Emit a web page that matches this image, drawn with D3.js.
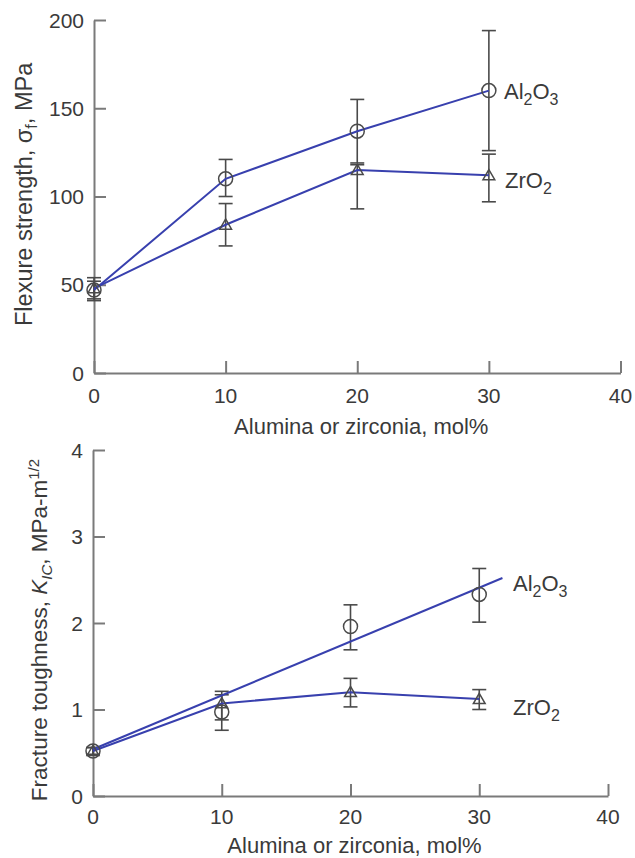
<!DOCTYPE html>
<html>
<head>
<meta charset="utf-8">
<script src="https://cdn.jsdelivr.net/npm/d3@7"></script>
<style>
  body { margin: 0; background: #fff; }
  svg { display: block; font-family: "Liberation Sans", Arial, sans-serif; }
</style>
</head>
<body>
<div id="chart"></div>
<script>
// composition, mol%
const molPct = [0, 10, 20, 30];

// flexure strength, MPa
const alFlex   = [47, 110, 137, 160];
const alFlexLo = [41, 100, 119, 126];
const alFlexHi = [54, 121, 155, 194];
const zrFlex   = [48, 84, 115, 112];
const zrFlexLo = [42, 72, 93, 97];
const zrFlexHi = [52, 96, 118, 124];

// fracture toughness, MPa-m^1/2
const alTough   = [0.52, 0.97, 1.96, 2.33];
const alToughLo = [0.48, 0.76, 1.69, 2.01];
const alToughHi = [0.56, 1.17, 2.21, 2.63];
const zrTough   = [0.52, 1.07, 1.20, 1.12];
const zrToughLo = [0.48, 0.88, 1.03, 1.00];
const zrToughHi = [0.56, 1.21, 1.36, 1.23];
// straight fit drawn through the Al2O3 toughness points
const alFitX = [0, 31.8];
const alFitY = [0.54, 2.52];

const xTicks = [0, 10, 20, 30, 40];
const flexTicks = [0, 50, 100, 150, 200];
const toughTicks = [0, 1, 2, 3, 4];

const lineColor = "#3840ae";
const markColor = "#4a4a4a";
const axisColor = "#7a7a7a";
const textColor = "#3a3a3a";

const svg = d3.select("#chart").append("svg")
    .attr("width", 635)
    .attr("height", 858);

function pts(xs, ys) {
    return xs.map((x, i) => ({x: x, y: ys[i]}));
}

function drawPanel(opt) {
    const x = d3.scaleLinear().domain([0, 40]).range(opt.xRange);
    const y = d3.scaleLinear().domain(opt.yDomain).range(opt.yRange);
    const g = svg.append("g");

    // axes, ticks pointing inward
    const xAxis = g.append("g")
        .attr("transform", "translate(0," + opt.yRange[0] + ")")
        .call(d3.axisTop(x).tickValues(xTicks).tickSize(12).tickSizeOuter(0).tickFormat(""));
    const yAxis = g.append("g")
        .attr("transform", "translate(" + opt.xRange[0] + ",0)")
        .call(d3.axisRight(y).tickValues(opt.yTicks).tickSize(12).tickSizeOuter(0).tickFormat(""));
    [xAxis, yAxis].forEach(a => {
        a.selectAll("path, line").attr("stroke", axisColor).attr("stroke-width", 2);
    });

    // tick labels
    g.selectAll(".xl").data(xTicks).enter().append("text")
        .attr("x", d => x(d))
        .attr("y", opt.yRange[0] + opt.tickDy)
        .attr("text-anchor", "middle")
        .attr("font-size", 21)
        .attr("fill", textColor)
        .text(d => d);
    g.selectAll(".yl").data(opt.yTicks).enter().append("text")
        .attr("x", opt.xRange[0] - 10)
        .attr("y", d => y(d))
        .attr("dy", "0.36em")
        .attr("text-anchor", "end")
        .attr("font-size", 21)
        .attr("fill", textColor)
        .text(d => d);

    // x title
    g.append("text")
        .attr("x", (opt.xRange[0] + opt.xRange[1]) / 2 + 4)
        .attr("y", opt.yRange[0] + opt.titleDy)
        .attr("text-anchor", "middle")
        .attr("font-size", 22)
        .attr("fill", textColor)
        .text("Alumina or zirconia, mol%");

    const line = d3.line().x(d => x(d.x)).y(d => y(d.y));

    // error bars
    opt.bars.forEach(b => {
        molPct.forEach((m, i) => {
            const cx = x(m);
            const eb = g.append("g").attr("stroke", markColor).attr("stroke-width", 1.6).attr("fill", "none");
            eb.append("line").attr("x1", cx).attr("x2", cx).attr("y1", y(b.lo[i])).attr("y2", y(b.hi[i]));
            eb.append("line").attr("x1", cx - 7).attr("x2", cx + 7).attr("y1", y(b.lo[i])).attr("y2", y(b.lo[i]));
            eb.append("line").attr("x1", cx - 7).attr("x2", cx + 7).attr("y1", y(b.hi[i])).attr("y2", y(b.hi[i]));
        });
    });

    // lines
    opt.lines.forEach(l => {
        g.append("path")
            .attr("d", line(l))
            .attr("fill", "none")
            .attr("stroke", lineColor)
            .attr("stroke-width", 2);
    });

    // markers
    g.selectAll(".circ").data(pts(molPct, opt.al)).enter().append("circle")
        .attr("cx", d => x(d.x))
        .attr("cy", d => y(d.y))
        .attr("r", 7)
        .attr("fill", "none")
        .attr("stroke", markColor)
        .attr("stroke-width", 1.5);
    g.selectAll(".tri").data(pts(molPct, opt.zr)).enter().append("path")
        .attr("d", d3.symbol(d3.symbolTriangle, 60))
        .attr("transform", d => "translate(" + x(d.x) + "," + (y(d.y) + 1) + ")")
        .attr("fill", "none")
        .attr("stroke", markColor)
        .attr("stroke-width", 1.5);

    // series labels
    opt.labels.forEach(lb => {
        const t = g.append("text")
            .attr("x", lb.x)
            .attr("y", lb.y)
            .attr("font-size", 22)
            .attr("fill", textColor);
        lb.parts.forEach(p => {
            if (p.sub) {
                t.append("tspan").attr("dy", 6).attr("font-size", 16).text(p.t);
            } else {
                t.append("tspan").attr("dy", p.back ? -6 : 0).text(p.t);
            }
        });
    });

    return g;
}

const alLabel = [{t: "Al"}, {t: "2", sub: true}, {t: "O", back: true}, {t: "3", sub: true}];
const zrLabel = [{t: "ZrO"}, {t: "2", sub: true}];

// top panel: flexure strength
drawPanel({
    xRange: [94, 620.5],
    yRange: [373, 20],
    yDomain: [0, 200],
    yTicks: flexTicks,
    tickDy: 30,
    titleDy: 61,
    al: alFlex,
    zr: zrFlex,
    bars: [{lo: alFlexLo, hi: alFlexHi}, {lo: zrFlexLo, hi: zrFlexHi}],
    lines: [pts(molPct, alFlex), pts(molPct, zrFlex)],
    labels: [{x: 504, y: 99, parts: alLabel}, {x: 505, y: 188, parts: zrLabel}]
});

// bottom panel: fracture toughness
drawPanel({
    xRange: [93, 608],
    yRange: [796, 450],
    yDomain: [0, 4],
    yTicks: toughTicks,
    tickDy: 28,
    titleDy: 57,
    al: alTough,
    zr: zrTough,
    bars: [{lo: alToughLo, hi: alToughHi}, {lo: zrToughLo, hi: zrToughHi}],
    lines: [pts(alFitX, alFitY), pts(molPct, zrTough)],
    labels: [{x: 513, y: 591, parts: alLabel}, {x: 513, y: 715, parts: zrLabel}]
});

// y titles
const yt1 = svg.append("text")
    .attr("transform", "translate(32,326) rotate(-90)")
    .attr("font-size", 23.5)
    .attr("fill", textColor);
yt1.append("tspan").text("Flexure strength, σ");
yt1.append("tspan").attr("dy", 5).attr("font-size", 16).text("f");
yt1.append("tspan").attr("dy", -5).text(", MPa");

const yt2 = svg.append("text")
    .attr("transform", "translate(47,630) rotate(-90)")
    .attr("text-anchor", "middle")
    .attr("font-size", 22.5)
    .attr("fill", textColor);
yt2.append("tspan").text("Fracture toughness, ");
yt2.append("tspan").attr("font-style", "italic").text("K");
yt2.append("tspan").attr("dy", 5).attr("font-size", 15).attr("font-style", "italic").text("IC");
yt2.append("tspan").attr("dy", -5).text(", MPa-m");
yt2.append("tspan").attr("dy", -8).attr("font-size", 15).text("1/2");
</script>
</body>
</html>
